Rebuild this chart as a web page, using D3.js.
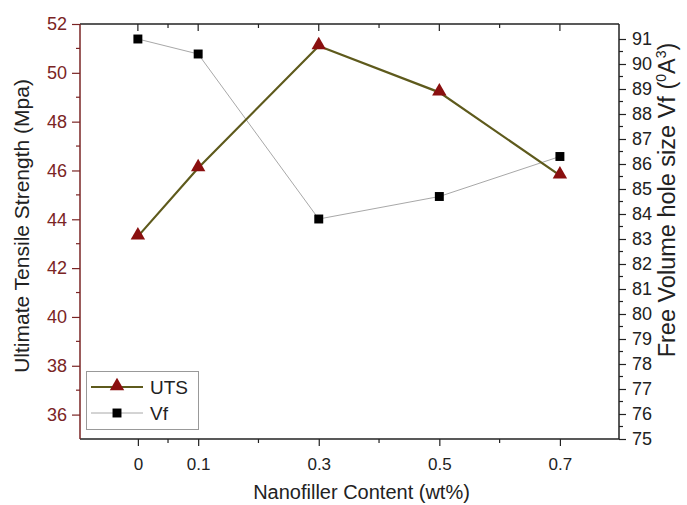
<!DOCTYPE html>
<html>
<head>
<meta charset="utf-8">
<script src="https://cdn.jsdelivr.net/npm/d3@7"></script>
<style>
  body { margin: 0; background: #fff; }
  text { font-family: "Liberation Sans", Arial, sans-serif; }
</style>
</head>
<body>
<svg class="chart" width="687" height="505"></svg>
<script>
// data
var contents = [0, 0.1, 0.3, 0.5, 0.7];
var uts = [43.3, 46.1, 51.1, 49.2, 45.8];
var vf = [91.0, 90.4, 83.8, 84.7, 86.3];
var xTicks = [0, 0.1, 0.3, 0.5, 0.7];
var xMinor = [0.05, 0.2, 0.4, 0.6];

var svg = d3.select(".chart");

var pLeft = 80, pRight = 619, pTop = 24, pBottom = 439;

var x = d3.scaleLinear().domain([-0.096, 0.798]).range([pLeft, pRight]);
var yL = d3.scaleLinear().domain([35, 52]).range([pBottom, pTop]);
var yR = d3.scaleLinear().domain([75, 91.6]).range([pBottom, pTop]);

var darkRed = "#7a2424";

// frame: top line
svg.append("line")
    .attr("x1", pLeft).attr("x2", pRight)
    .attr("y1", pTop).attr("y2", pTop)
    .style("stroke", "#222").style("stroke-width", 1.5);

// top ticks pointing inward
svg.append("g").selectAll("line")
    .data(xTicks.concat(xMinor))
    .enter().append("line")
    .attr("x1", function(d) { return x(d); })
    .attr("x2", function(d) { return x(d); })
    .attr("y1", pTop)
    .attr("y2", function(d) { return pTop + (xTicks.indexOf(d) >= 0 ? 7 : 4); })
    .style("stroke", "#222").style("stroke-width", 1.2);

// bottom axis
var xAxis = svg.append("g")
    .attr("transform", "translate(0," + pBottom + ")")
    .call(d3.axisBottom(x).tickValues(xTicks).tickSize(7).tickPadding(12)
      .tickFormat(function(d) { return d === 0 ? "0" : d3.format(".1f")(d); }));
xAxis.select(".domain").attr("d", "M" + pLeft + ",0H" + pRight).style("stroke", "#222").style("stroke-width", 1.5);
xAxis.selectAll(".tick line").style("stroke", "#222").style("stroke-width", 1.2);
xAxis.selectAll("text").style("font-size", "17px").style("fill", "#222");
xAxis.append("g").selectAll("line")
    .data(xMinor).enter().append("line")
    .attr("x1", function(d) { return x(d); })
    .attr("x2", function(d) { return x(d); })
    .attr("y1", 0).attr("y2", 4)
    .style("stroke", "#222").style("stroke-width", 1.2);

// left axis
var leftAxis = svg.append("g")
    .attr("transform", "translate(" + pLeft + ",0)")
    .call(d3.axisLeft(yL).tickValues(d3.range(36, 53, 2)).tickSize(8).tickPadding(5));
leftAxis.select(".domain").attr("d", "M0," + pTop + "V" + pBottom).style("stroke", darkRed).style("stroke-width", 1.5);
leftAxis.selectAll(".tick line").style("stroke", darkRed).style("stroke-width", 1.2);
leftAxis.selectAll("text").style("font-size", "18px").style("fill", darkRed);
leftAxis.append("g").selectAll("line")
    .data(d3.range(37, 52, 2)).enter().append("line")
    .attr("y1", function(d) { return yL(d); })
    .attr("y2", function(d) { return yL(d); })
    .attr("x1", 0).attr("x2", -4)
    .style("stroke", darkRed).style("stroke-width", 1.2);

// right axis
var rightAxis = svg.append("g")
    .attr("transform", "translate(" + pRight + ",0)")
    .call(d3.axisRight(yR).tickValues(d3.range(75, 92, 1)).tickSize(7).tickPadding(6));
rightAxis.select(".domain").attr("d", "M0," + pTop + "V" + pBottom).style("stroke", "#222").style("stroke-width", 1.5);
rightAxis.selectAll(".tick line").style("stroke", "#222").style("stroke-width", 1.2);
rightAxis.selectAll("text").style("font-size", "18px").style("fill", "#222");
rightAxis.append("g").selectAll("line")
    .data(d3.range(75.5, 91.5, 1)).enter().append("line")
    .attr("y1", function(d) { return yR(d); })
    .attr("y2", function(d) { return yR(d); })
    .attr("x1", 0).attr("x2", 4)
    .style("stroke", "#222").style("stroke-width", 1.2);

// axis titles
svg.append("text")
    .attr("x", (pLeft + pRight) / 2 + 12).attr("y", 499)
    .attr("text-anchor", "middle")
    .style("font-size", "20px").style("fill", "#222")
    .text("Nanofiller Content (wt%)");

svg.append("text")
    .attr("transform", "translate(29,226) rotate(-90)")
    .attr("text-anchor", "middle")
    .style("font-size", "21px").style("fill", "#222")
    .text("Ultimate Tensile Strength (Mpa)");

var rt = svg.append("text")
    .attr("transform", "translate(675,200) rotate(-90)")
    .attr("text-anchor", "middle")
    .style("font-size", "23.5px").style("fill", "#222");
rt.append("tspan").text("Free Volume hole size Vf (");
rt.append("tspan").attr("dy", -9).style("font-size", "14px").text("0");
rt.append("tspan").attr("dy", 9).text("A");
rt.append("tspan").attr("dy", -9).style("font-size", "14px").text("3");
rt.append("tspan").attr("dy", 9).text(")");

// series
var utsLine = d3.line()
    .x(function(d, i) { return x(contents[i]); })
    .y(function(d) { return yL(d); });
var vfLine = d3.line()
    .x(function(d, i) { return x(contents[i]); })
    .y(function(d) { return yR(d); });

svg.append("path")
    .datum(vf)
    .attr("d", vfLine)
    .style("fill", "none").style("stroke", "#a8a8a8").style("stroke-width", 1);

svg.append("path")
    .datum(uts)
    .attr("d", utsLine)
    .style("fill", "none").style("stroke", "#5e5a1c").style("stroke-width", 2.2);

var tri = d3.symbol().type(d3.symbolTriangle).size(90);
var sq = d3.symbol().type(d3.symbolSquare).size(80);

svg.append("g").selectAll("path")
    .data(vf).enter().append("path")
    .attr("d", sq)
    .attr("transform", function(d, i) { return "translate(" + x(contents[i]) + "," + yR(d) + ")"; })
    .style("fill", "#000");

svg.append("g").selectAll("path")
    .data(uts).enter().append("path")
    .attr("d", tri)
    .attr("transform", function(d, i) { return "translate(" + x(contents[i]) + "," + (yL(d) - 1) + ")"; })
    .style("fill", "#8a0f0f");

// legend
var legend = svg.append("g");
legend.append("rect")
    .attr("x", 86.5).attr("y", 371.5)
    .attr("width", 112).attr("height", 58)
    .style("fill", "#fff").style("stroke", "#999").style("stroke-width", 1);

legend.append("line")
    .attr("x1", 91).attr("x2", 143).attr("y1", 387).attr("y2", 387)
    .style("stroke", "#5e5a1c").style("stroke-width", 2.2);
legend.append("path")
    .attr("d", tri)
    .attr("transform", "translate(117,386)")
    .style("fill", "#8a0f0f");
legend.append("text")
    .attr("x", 150).attr("y", 394)
    .style("font-size", "19px").style("fill", "#222")
    .text("UTS");

legend.append("line")
    .attr("x1", 91).attr("x2", 143).attr("y1", 413).attr("y2", 413)
    .style("stroke", "#a8a8a8").style("stroke-width", 1);
legend.append("path")
    .attr("d", sq)
    .attr("transform", "translate(117,413)")
    .style("fill", "#000");
legend.append("text")
    .attr("x", 150).attr("y", 420)
    .style("font-size", "19px").style("fill", "#222")
    .text("Vf");
</script>
</body>
</html>
